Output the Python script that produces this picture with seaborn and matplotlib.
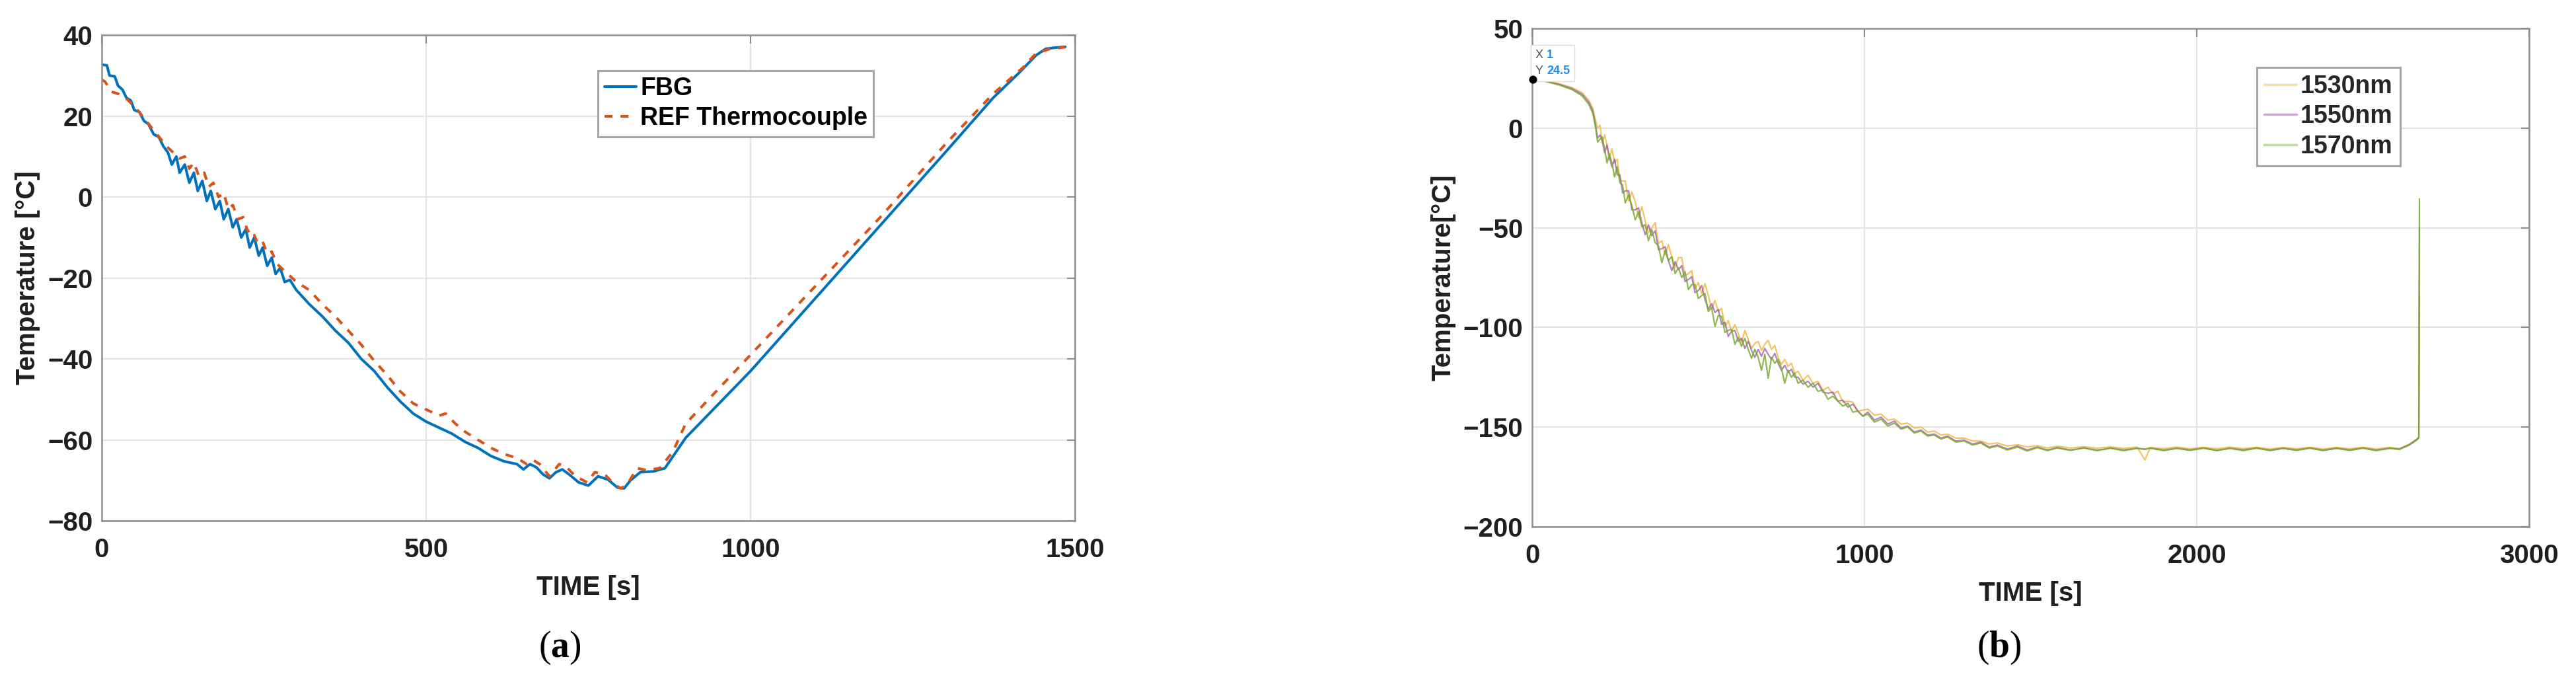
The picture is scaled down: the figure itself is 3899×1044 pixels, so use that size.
import pandas as pd
import matplotlib.pyplot as plt
import seaborn as sns
from matplotlib.offsetbox import AnnotationBbox, HPacker, TextArea

# ---- panel (a): FBG vs reference thermocouple ----
fbg_time = [0, 8, 12, 20, 25, 32, 38, 45, 50, 58, 65, 72, 80, 88, 95, 102, 108, 115, 120,
            128, 135, 142, 148, 155, 162, 168, 175, 182, 188, 195, 202, 208, 215, 222, 228,
            235, 242, 248, 255, 262, 268, 275, 282, 290, 300, 320, 340, 360, 380, 400, 420,
            440, 460, 480, 500, 520, 540, 560, 580, 600, 620, 640, 650, 660, 670, 680, 690,
            700, 710, 720, 735, 750, 765, 780, 795, 805, 815, 830, 850, 868, 900, 1000, 1100,
            1200, 1300, 1374, 1414, 1440, 1455, 1470, 1485]
fbg_temp = [32.7, 32.5, 30.0, 29.8, 27.5, 26.5, 24.5, 23.8, 21.5, 21.0, 18.8, 18.0, 15.5,
            14.8, 12.5, 11.0, 8.0, 10.0, 6.0, 8.0, 3.5, 6.0, 1.5, 4.0, -1.0, 1.5, -3.0, -1.0,
            -5.5, -3.0, -7.5, -5.5, -10.0, -8.0, -12.5, -10.0, -14.5, -12.5, -17.0, -15.0,
            -19.0, -17.5, -21.0, -20.5, -23.0, -26.5, -29.5, -33.0, -36.0, -40.0, -43.0,
            -47.0, -50.5, -53.5, -55.5, -57.0, -58.5, -60.5, -62.0, -64.0, -65.3, -66.0,
            -67.3, -66.0, -66.8, -68.5, -69.5, -68.0, -67.3, -68.5, -70.5, -71.3, -69.0,
            -69.8, -71.8, -72.0, -70.0, -68.0, -67.8, -67.0, -59.5, -43.0, -25.0, -7.0,
            11.0, 24.5, 30.7, 35.0, 36.6, 36.9, 37.1]

ref_time = [0, 5, 15, 25, 40, 55, 70, 85, 100, 110, 120, 128, 135, 142, 150, 158, 165, 172,
            180, 188, 195, 202, 210, 218, 225, 232, 240, 248, 255, 262, 270, 280, 290, 300,
            320, 340, 360, 380, 400, 420, 440, 460, 480, 500, 520, 530, 545, 560, 580, 600,
            620, 640, 655, 665, 675, 690, 705, 715, 730, 748, 760, 775, 790, 800, 810, 825,
            840, 860, 880, 900, 1000, 1100, 1200, 1300, 1374, 1420, 1440, 1460, 1485]
ref_temp = [29.0, 28.5, 26.0, 25.5, 24.0, 21.5, 18.5, 15.5, 12.5, 11.0, 9.5, 10.0, 7.0, 8.5,
            5.0, 6.0, 2.5, 3.5, 0.0, 1.0, -3.0, -2.0, -5.5, -5.0, -8.5, -8.0, -11.5, -11.0,
            -14.0, -13.5, -16.5, -18.0, -19.5, -21.0, -23.0, -26.5, -29.5, -33.0, -36.5,
            -40.5, -44.0, -48.0, -51.0, -52.5, -54.0, -53.5, -56.0, -58.0, -60.0, -62.0,
            -63.5, -64.5, -66.0, -65.0, -66.0, -69.0, -66.0, -66.5, -69.0, -70.5, -68.0,
            -68.5, -71.0, -72.0, -71.0, -67.0, -67.5, -67.0, -63.0, -56.0, -39.0, -22.0,
            -5.0, 13.0, 25.5, 32.0, 35.5, 36.5, 37.0]

# ---- panel (b): three wavelengths ----
wl_time = [0, 40, 80, 120, 150, 170, 182, 190, 197, 204, 211, 218, 225, 232, 240, 248, 256,
           264, 272, 280, 290, 300, 310, 320, 330, 340, 350, 360, 370, 380, 390, 400, 410,
           420, 430, 440, 450, 460, 470, 480, 490, 500, 510, 520, 530, 540, 550, 560, 570,
           580, 590, 600, 610, 620, 630, 640, 650, 660, 670, 680, 690, 700, 710, 720, 730,
           740, 750, 760, 770, 780, 790, 800, 815, 830, 845, 860, 875, 890, 905, 920, 935,
           950, 965, 980, 995, 1010, 1030, 1050, 1070, 1090, 1110, 1130, 1150, 1170, 1190,
           1210, 1230, 1250, 1275, 1300, 1325, 1350, 1375, 1400, 1430, 1460, 1490, 1520,
           1550, 1580, 1620, 1660, 1700, 1740, 1780, 1820, 1844, 1860, 1900, 1940, 1980,
           2020, 2060, 2100, 2140, 2180, 2220, 2260, 2300, 2340, 2380, 2420, 2460, 2500,
           2540, 2580, 2610, 2640, 2662, 2668, 2670]

temp_1530 = [24.5, 23.6, 22.3, 20.3, 17.8, 14.0, 10.0, 4.5,
             0.0, 1.5, -7.5, -3.5, -8.5, -16.0, -10.5, -17.5, -15.5, -26.5, -26.5, -26.5,
             -36.5, -32.0, -37.0, -45.0, -39.5, -46.5, -52.5, -50.0, -47.5, -58.0, -56.5,
             -63.5, -58.5, -64.5, -70.0, -65.0, -65.0, -74.0, -73.0, -71.5, -80.5, -77.5,
             -83.0, -78.0, -84.0, -91.0, -86.5, -92.0, -90.5, -99.5, -96.5, -102.0, -98.5,
             -103.0, -107.5, -101.5, -106.0, -110.5, -108.0, -107.0, -111.5, -108.5, -106.5,
             -111.0, -109.0, -115.0, -118.5, -116.0, -119.5, -118.0, -123.0, -122.0, -126.5,
             -124.0, -128.0, -127.0, -131.5, -130.0, -133.5, -132.0, -137.5, -137.0, -137.5,
             -142.0, -141.5,
             -141.0, -144.0, -143.5, -146.5, -146.0, -148.5, -148.0, -150.5, -150.0, -152.5,
             -152.0, -154.0, -153.5, -155.5, -155.5, -157.0, -157.0, -158.5, -158.0, -159.5,
             -158.8, -160.0, -159.3, -160.5, -159.6, -160.5, -159.8, -160.6, -159.9, -160.7,
             -160.0, -166.5, -160.2, -160.8, -160.0, -160.9, -160.1, -160.9, -160.0, -160.8,
             -160.1, -161.0, -160.2, -160.9, -160.1, -161.0, -160.2, -160.9, -160.1, -161.0,
             -160.2, -160.8, -158.5, -156.0, -155.0, -84.0]

temp_1550 = [24.5, 23.5, 22.0, 19.8, 17.0, 13.0, 8.8, 2.0,
             -5.0, -3.5, -6.5, -12.5, -8.5, -14.0, -19.5, -15.5, -23.5, -23.5, -32.5, -31.5,
             -31.5, -41.0, -41.0, -40.0, -47.5, -53.5, -48.5, -54.0, -51.5, -61.0, -60.5,
             -59.5, -66.5, -71.5, -67.0, -71.0, -69.0, -77.0, -76.0, -74.5, -82.5, -81.5,
             -79.0, -86.0, -91.0, -88.0, -92.5, -91.0, -98.5, -97.5, -104.5, -102.0, -101.5,
             -107.0, -105.5, -110.5, -107.0, -111.5, -115.0, -111.0, -114.5, -110.5, -113.5,
             -116.0, -113.0, -118.0, -121.5, -119.0, -122.5, -121.0, -125.0, -125.0, -128.5,
             -127.0, -130.0, -128.0, -132.5, -133.0, -132.5, -137.0, -136.5, -140.0, -138.5,
             -142.0, -144.5,
             -142.5, -146.5, -145.0, -148.5, -147.0, -150.5, -149.5, -152.5, -151.5, -154.0,
             -153.5, -155.5, -154.5, -157.0, -156.5, -158.5, -157.5, -160.0, -159.0, -161.0,
             -159.5, -161.5, -160.0, -161.5, -160.3, -161.5, -160.4, -161.6, -160.5, -161.5,
             -160.6, -161.0, -160.5, -161.6, -160.6, -161.5, -160.5, -161.7, -160.6, -161.5,
             -160.5, -161.6, -160.6, -161.5, -160.5, -161.6, -160.6, -161.5, -160.5, -161.6,
             -160.6, -161.0, -158.8, -156.2, -155.2, -50.0]

temp_1570 = [24.5, 23.4, 21.7, 19.3, 16.2, 12.0, 7.5, 1.0,
             -7.0, -5.5, -4.5, -10.5, -17.5, -13.0, -17.5, -24.5, -19.5, -27.5, -28.5, -37.5,
             -33.5, -39.0, -46.0, -42.0, -49.5, -48.5, -56.5, -51.0, -57.5, -59.0, -67.5,
             -61.5, -66.5, -64.5, -73.0, -70.0, -75.0, -72.0, -81.0, -78.5, -78.5, -85.5,
             -84.0, -83.0, -92.0, -90.0, -99.5, -94.0, -94.5, -102.5, -101.5, -101.0, -108.5,
             -105.0, -109.5, -105.5, -111.0, -115.5, -111.0, -115.0, -121.5, -113.5, -125.5,
             -115.0, -118.0, -116.0, -120.5, -128.0, -121.5, -125.0, -123.0, -128.0, -126.5,
             -130.0, -128.0, -132.0, -131.5, -136.0, -134.5, -137.0, -139.5, -138.0, -142.5,
             -142.0, -144.5,
             -143.5, -147.5, -146.0, -149.5, -148.0, -151.0, -150.0, -153.0, -152.0, -154.5,
             -154.0, -156.0, -155.0, -157.5, -157.0, -159.0, -158.0, -160.5, -159.5, -161.5,
             -160.0, -162.0, -160.3, -161.8, -160.5, -161.7, -160.5, -161.8, -160.6, -161.8,
             -160.7, -161.2, -160.6, -161.8, -160.7, -161.7, -160.6, -161.8, -160.7, -161.8,
             -160.6, -161.8, -160.7, -161.7, -160.6, -161.8, -160.7, -161.7, -160.6, -161.8,
             -160.7, -161.2, -159.0, -156.5, -155.5, -35.5]

tip_x, tip_y = 1, 24.5

sns.set_theme(style="whitegrid")
plt.rcParams['font.family'] = ['Liberation Sans', 'DejaVu Sans']
plt.rcParams['font.weight'] = 'bold'
plt.rcParams['mathtext.fontset'] = 'custom'
plt.rcParams['mathtext.rm'] = 'Liberation Serif'
plt.rcParams['mathtext.bf'] = 'Liberation Serif:bold'

TXT = '#1f1f1f'
EDGE = '#8e8e8e'


def style_axes(ax, xlim, ylim, xticks, yticks, ylabel):
    ax.set_facecolor('white')
    ax.set_xlim(*xlim)
    ax.set_ylim(*ylim)
    ax.set_xticks(xticks)
    ax.set_yticks(yticks)
    ax.grid(True, color='#e4e4e4', lw=1.6)
    ax.set_axisbelow(True)
    for sp in ax.spines.values():
        sp.set_visible(True)
        sp.set_color(EDGE)
        sp.set_linewidth(1.8)
    ax.tick_params(direction='in', length=9, width=1.5, color=EDGE,
                   top=True, right=True, labelsize=29, labelcolor=TXT)
    ax.tick_params(axis='x', pad=18)
    ax.tick_params(axis='y', pad=10)
    ax.set_xlabel('TIME [s]', fontsize=29, fontweight='bold', color=TXT, labelpad=14)
    ax.set_ylabel(ylabel, fontsize=29, fontweight='bold', color=TXT, labelpad=8)


fig = plt.figure(figsize=(38.99, 10.44), dpi=100)
fig.patch.set_facecolor('white')
ax1 = fig.add_axes([0.0395, 0.2452, 0.3778, 0.704])
ax2 = fig.add_axes([0.5948, 0.2366, 0.3870, 0.7222])

# panel (a)
sns.lineplot(x=fbg_time, y=fbg_temp, ax=ax1, color='#0072BD', lw=2.9,
             estimator=None, sort=False, label='FBG')
sns.lineplot(x=ref_time, y=ref_temp, ax=ax1, color='#D95319', lw=2.9,
             ls=(0, (3, 3)), estimator=None, sort=False, label='REF Thermocouple')
style_axes(ax1, (0, 1500), (-80, 40), [0, 500, 1000, 1500],
           [-80, -60, -40, -20, 0, 20, 40], 'Temperature [°C]')
leg1 = ax1.legend(loc='upper left', bbox_to_anchor=(0.51, 0.927), borderaxespad=0,
                  prop={'weight': 'bold', 'size': 27}, handlelength=1.3,
                  handletextpad=0.15, labelspacing=0.25, borderpad=0.25,
                  fancybox=False, framealpha=1, edgecolor='#a5a5a5')
leg1.get_frame().set_linewidth(2.2)
for t in leg1.get_texts():
    t.set_color('black')

# panel (b)
sns.lineplot(x=wl_time, y=temp_1530, ax=ax2, color='#F0B63A', lw=1.6, alpha=0.8,
             estimator=None, sort=False, label='1530nm')
sns.lineplot(x=wl_time, y=temp_1550, ax=ax2, color='#8E3F9E', lw=1.6, alpha=0.65,
             estimator=None, sort=False, label='1550nm')
sns.lineplot(x=wl_time, y=temp_1570, ax=ax2, color='#77AC30', lw=1.6, alpha=0.85,
             estimator=None, sort=False, label='1570nm')
style_axes(ax2, (0, 3000), (-200, 50), [0, 1000, 2000, 3000],
           [-200, -150, -100, -50, 0, 50], 'Temperature[°C]')
leg2 = ax2.legend(loc='upper left', bbox_to_anchor=(0.727, 0.922), borderaxespad=0,
                  prop={'weight': 'bold', 'size': 27}, handlelength=1.3,
                  handletextpad=0.15, labelspacing=0.25, borderpad=0.3,
                  fancybox=False, framealpha=1, edgecolor='#a5a5a5')
leg2.get_frame().set_linewidth(2.2)
for ln in leg2.get_lines():
    ln.set_linewidth(2.5)
    ln.set_alpha(0.45)

# data tip at the first sample
ax2.scatter([tip_x], [tip_y], s=60, color='black', zorder=5, clip_on=False)
tip_keys = TextArea('X\nY', textprops=dict(color='#555555', fontsize=13,
                                           fontweight='normal', linespacing=1.5))
tip_vals = TextArea(f'{tip_x}\n{tip_y}', textprops=dict(color='#1a8cff', fontsize=13,
                                                        fontweight='bold', linespacing=1.5))
tip_box = AnnotationBbox(HPacker(children=[tip_keys, tip_vals], align='top', pad=0, sep=4),
                         (tip_x, tip_y), xybox=(3, 3), xycoords='data',
                         boxcoords='offset points', box_alignment=(0, 0), frameon=True,
                         pad=0.45, bboxprops=dict(fc='white', ec='#dcdcdc', lw=1))
ax2.add_artist(tip_box)

# sub-figure captions
fig.text(0.2172, 0.061, r'($\mathbf{a}$)', fontsize=40, fontweight='normal',
         family='Liberation Serif', ha='center', va='center', color='black')
fig.text(0.776, 0.061, r'($\mathbf{b}$)', fontsize=40, fontweight='normal',
         family='Liberation Serif', ha='center', va='center', color='black')

fig.savefig('out.png', dpi=100, facecolor='white')
